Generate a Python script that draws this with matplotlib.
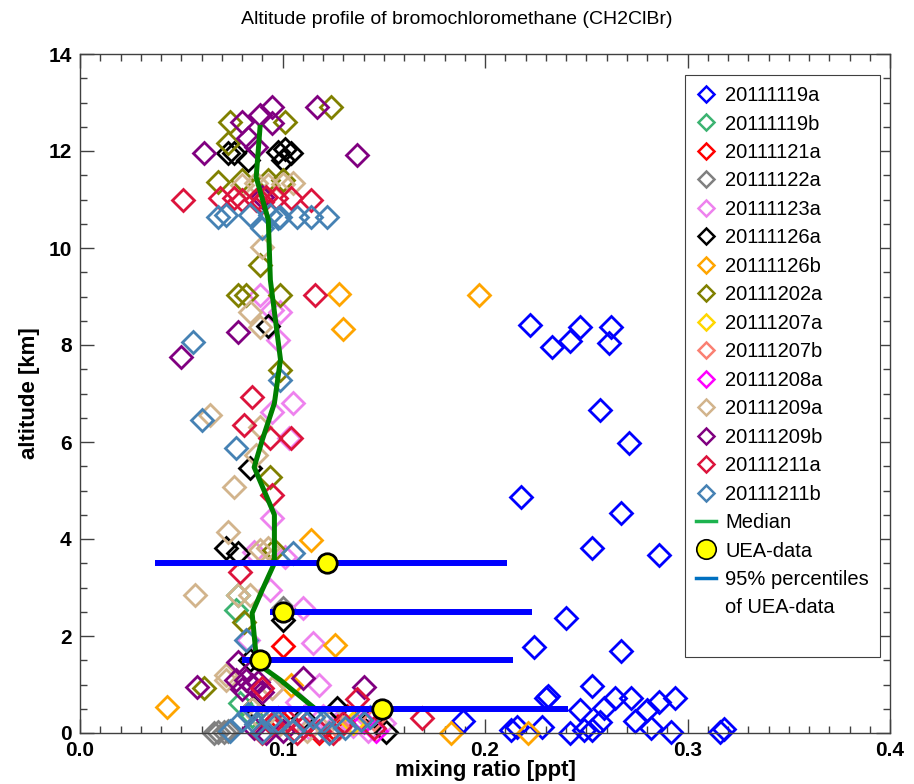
import matplotlib
matplotlib.use("Agg")
import matplotlib.pyplot as plt
from matplotlib.lines import Line2D
from matplotlib.ticker import MultipleLocator

plt.rcParams['font.family'] = ['Liberation Sans', 'DejaVu Sans']

# ---- data -------------------------------------------------------------
flights = ['20111119a', '20111119b', '20111121a', '20111122a', '20111123a',
           '20111126a', '20111126b', '20111202a', '20111207a', '20111207b',
           '20111208a', '20111209a', '20111209b', '20111211a', '20111211b']

colors = ['#0000ff', '#3cb371', '#ff0000', '#808080', '#ee82ee',
          '#000000', '#ffa500', '#808000', '#ffd700', '#fa8072',
          '#ff00ff', '#d2b48c', '#800080', '#dc143c', '#4682b4']

x_19a = [0.222, 0.233, 0.242, 0.247, 0.262, 0.261, 0.257, 0.271, 0.218, 0.267,
         0.253, 0.286, 0.240, 0.224, 0.267, 0.253, 0.230, 0.231, 0.247, 0.189,
         0.213, 0.216, 0.228, 0.242, 0.249, 0.253, 0.257, 0.259, 0.264, 0.272,
         0.274, 0.280, 0.282, 0.286, 0.292, 0.294, 0.316, 0.318]
y_19a = [8.41, 7.96, 8.08, 8.37, 8.37, 8.04, 6.66, 5.98, 4.87, 4.54,
         3.81, 3.67, 2.37, 1.77, 1.69, 0.97, 0.72, 0.76, 0.47, 0.25,
         0.06, 0.12, 0.12, 0.00, 0.06, 0.06, 0.23, 0.51, 0.72, 0.72,
         0.25, 0.47, 0.10, 0.64, 0.02, 0.72, 0.02, 0.08]

x_19b = [0.078, 0.077, 0.079, 0.085]
y_19b = [2.85, 2.54, 0.61, 0.35]

x_21a = [0.100, 0.098, 0.112, 0.125, 0.132, 0.105, 0.118]
y_21a = [1.79, 0.30, 0.20, 0.10, 0.35, 0.05, 0.00]

x_22a = [0.066, 0.068, 0.071, 0.073, 0.100]
y_22a = [0.00, 0.02, 0.03, 0.05, 2.58]

x_23a = [0.089, 0.095, 0.099, 0.098, 0.105, 0.095, 0.103, 0.095, 0.086, 0.101,
         0.094, 0.110, 0.115, 0.083, 0.118, 0.095, 0.107, 0.128, 0.135, 0.142,
         0.120, 0.150, 0.113]
y_23a = [9.03, 8.72, 8.68, 8.10, 6.80, 6.62, 6.08, 4.43, 3.73, 3.63,
         2.95, 2.58, 1.86, 1.92, 0.99, 0.93, 0.64, 0.25, 0.15, 0.05,
         0.35, 0.20, 0.10]

x_26a = [0.073, 0.076, 0.083, 0.098, 0.104, 0.100, 0.101, 0.093, 0.084, 0.072,
         0.078, 0.100, 0.084, 0.086, 0.127, 0.151, 0.110, 0.145]
y_26a = [11.96, 11.96, 11.81, 11.98, 11.96, 11.81, 12.05, 8.39, 5.46, 3.81,
         3.71, 2.33, 1.50, 0.54, 0.52, 0.02, 0.30, 0.33]

x_26b = [0.197, 0.128, 0.130, 0.114, 0.126, 0.043, 0.183, 0.221, 0.104]
y_26b = [9.03, 9.05, 8.33, 3.98, 1.81, 0.54, 0.00, 0.00, 1.00]

x_02a = [0.074, 0.101, 0.124, 0.073, 0.068, 0.080, 0.093, 0.100, 0.089, 0.078,
         0.082, 0.099, 0.099, 0.094, 0.096, 0.081, 0.061]
y_02a = [12.60, 12.60, 12.90, 12.16, 11.36, 11.40, 11.40, 11.40, 9.65, 9.03,
         9.03, 9.03, 7.48, 5.28, 3.77, 2.29, 0.92]

x_07a = [0.135]
y_07a = [0.20]

x_07b = [0.128, 0.145]
y_07b = [0.10, 0.28]

x_08a = [0.140, 0.146]
y_08a = [0.22, 0.05]

x_09a = [0.080, 0.087, 0.093, 0.100, 0.105, 0.090, 0.084, 0.089, 0.064, 0.089,
         0.087, 0.076, 0.073, 0.089, 0.093, 0.057, 0.078, 0.084, 0.072, 0.072,
         0.095, 0.085, 0.098, 0.112, 0.125, 0.088]
y_09a = [11.30, 11.34, 11.30, 11.32, 11.34, 10.02, 8.68, 8.37, 6.56, 6.31,
         5.73, 5.07, 4.14, 3.77, 3.82, 2.85, 2.85, 2.85, 1.09, 1.20,
         0.93, 0.50, 0.15, 0.05, 0.30, 0.35]

x_09b = [0.080, 0.089, 0.095, 0.095, 0.117, 0.083, 0.087, 0.061, 0.137, 0.078,
         0.050, 0.058, 0.078, 0.077, 0.082, 0.085, 0.110, 0.140, 0.080, 0.088,
         0.090, 0.092, 0.100, 0.086, 0.090]
y_09b = [12.60, 12.74, 12.90, 12.58, 12.90, 12.27, 12.08, 11.96, 11.92, 8.27,
         7.75, 0.95, 1.46, 1.09, 1.09, 0.99, 1.13, 0.95, 0.90, 1.05,
         0.85, 0.00, 0.05, 0.10, 11.05]

x_11a = [0.051, 0.069, 0.076, 0.080, 0.087, 0.097, 0.104, 0.114, 0.090, 0.092,
         0.116, 0.085, 0.081, 0.094, 0.104, 0.095, 0.079, 0.090, 0.137, 0.169,
         0.090, 0.102, 0.110, 0.118, 0.130, 0.107, 0.125, 0.145, 0.095]
y_11a = [11.00, 11.03, 11.03, 11.00, 11.00, 11.03, 11.03, 10.99, 10.95, 11.05,
         9.03, 6.93, 6.35, 6.08, 6.08, 4.91, 3.32, 0.93, 0.70, 0.31,
         0.00, 0.27, 0.12, 0.05, 0.20, 0.00, 0.00, 0.10, 0.18]

x_11b = [0.068, 0.072, 0.084, 0.094, 0.099, 0.107, 0.114, 0.122, 0.090, 0.098,
         0.056, 0.060, 0.077, 0.105, 0.099, 0.082, 0.080, 0.087, 0.094, 0.098,
         0.110, 0.115, 0.120, 0.139, 0.143, 0.090, 0.105, 0.123, 0.083, 0.131,
         0.074]
y_11b = [10.64, 10.68, 10.68, 10.68, 10.64, 10.64, 10.64, 10.64, 10.41, 10.62,
         8.06, 6.45, 5.88, 3.71, 7.28, 1.92, 0.27, 0.18, 0.27, 0.22,
         0.27, 0.33, 0.22, 0.27, 0.33, 0.02, 0.05, 0.00, 0.40, 0.10,
         0.04]

series_x = [x_19a, x_19b, x_21a, x_22a, x_23a, x_26a, x_26b, x_02a,
            x_07a, x_07b, x_08a, x_09a, x_09b, x_11a, x_11b]
series_y = [y_19a, y_19b, y_21a, y_22a, y_23a, y_26a, y_26b, y_02a,
            y_07a, y_07b, y_08a, y_09a, y_09b, y_11a, y_11b]

median_alt = [0.47, 1.09, 1.36, 1.57, 2.47, 2.95, 3.5, 4.5, 5.48, 6.04,
              6.8, 7.7, 9.34, 10.58, 11.46, 12.54]
median_val = [0.117, 0.099, 0.090, 0.087, 0.085, 0.090, 0.096, 0.096, 0.086, 0.090,
              0.096, 0.099, 0.094, 0.093, 0.087, 0.089]

uea_alt = [0.5, 1.5, 2.5, 3.5]
uea_val = [0.149, 0.089, 0.100, 0.122]
uea_lo = [0.079, 0.080, 0.094, 0.037]
uea_hi = [0.241, 0.214, 0.223, 0.211]

# ---- figure -----------------------------------------------------------
fig = plt.figure(figsize=(9.14, 7.84), dpi=100)
ax = fig.add_axes([80/914, 1-733/784, 810/914, 679/784])

for xs, ys, c in zip(series_x, series_y, colors):
    ax.plot(xs, ys, linestyle='none', marker='D', markersize=11,
            markerfacecolor='none', markeredgecolor=c, markeredgewidth=2.0,
            zorder=2, clip_on=False)

ax.plot(median_val, median_alt, color='#008000', linewidth=3.6, zorder=3,
        solid_capstyle='butt')
ax.hlines(uea_alt, uea_lo, uea_hi, colors='#0000ff', linewidth=4.3, zorder=4)
ax.plot(uea_val, uea_alt, linestyle='none', marker='o', markersize=14,
        markerfacecolor='#ffff00', markeredgecolor='black',
        markeredgewidth=2.0, zorder=5)

ax.set_xlim(0, 0.4)
ax.set_ylim(0, 14)
ax.xaxis.set_major_locator(MultipleLocator(0.1))
ax.xaxis.set_minor_locator(MultipleLocator(0.01))
ax.yaxis.set_major_locator(MultipleLocator(2))
ax.yaxis.set_minor_locator(MultipleLocator(0.5))
ax.xaxis.set_major_formatter(plt.FuncFormatter(lambda v, p: f'{v:.1f}'))
ax.tick_params(which='both', direction='in', top=True, right=True,
               color='#404040')
ax.tick_params(which='major', length=10, width=1.0, labelsize=15, pad=6)
ax.tick_params(which='minor', length=5, width=1.0)
for lab in ax.get_xticklabels() + ax.get_yticklabels():
    lab.set_fontweight('bold')
for s in ax.spines.values():
    s.set_color('#404040')
    s.set_linewidth(1.0)

ax.set_xlabel('mixing ratio [ppt]', fontsize=16, fontweight='bold', labelpad=0)
ax.set_ylabel('altitude [km]', fontsize=16, fontweight='bold', labelpad=6)
fig.text(457 / 914, 1 - 20 / 784,
         'Altitude profile of bromochloromethane (CH2ClBr)',
         ha='center', va='center', fontsize=14)

# ---- legend -----------------------------------------------------------
handles = []
labels = []
for f, c in zip(flights, colors):
    handles.append(Line2D([], [], linestyle='none', marker='D', markersize=8,
                          markerfacecolor='none', markeredgecolor=c,
                          markeredgewidth=1.8))
    labels.append(f)
handles.append(Line2D([], [], color='#1db34f', linewidth=2.5))
labels.append('Median')
handles.append(Line2D([], [], linestyle='none', marker='o', markersize=14,
                      markerfacecolor='#ffff00', markeredgecolor='black',
                      markeredgewidth=1.2))
labels.append('UEA-data')
handles.append(Line2D([], [], color='#0070c0', linewidth=2.5))
labels.append('95% percentiles')
handles.append(Line2D([], [], linestyle='none'))
labels.append('of UEA-data')
handles.append(Line2D([], [], linestyle='none'))
labels.append(' ')

leg = ax.legend(handles, labels, loc='upper right',
                bbox_to_anchor=((880 - 80) / 810, (733 - 75) / 679),
                borderaxespad=0, fontsize=14.5, frameon=True, fancybox=False,
                edgecolor='#404040', framealpha=1, labelspacing=0.47,
                handlelength=1.0, handletextpad=0.45, borderpad=0.55)
leg.get_frame().set_linewidth(0.8)
leg.set_zorder(10)

fig.savefig('out.png', dpi=100)
